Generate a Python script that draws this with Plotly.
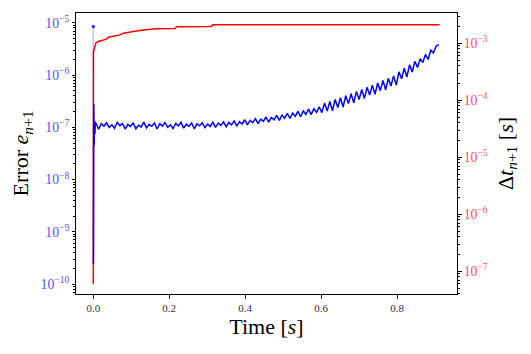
import plotly.graph_objects as go

# ---- data ----
red_t = [0.0, 0.0003, 0.007, 0.013, 0.035, 0.040, 0.070, 0.079, 0.105, 0.132,
         0.167, 0.215, 0.220, 0.310, 0.315, 0.912]
red_dt = [5.9e-8, 7.1e-4, 1.02e-3, 1.07e-3, 1.18e-3, 1.27e-3, 1.40e-3, 1.50e-3,
          1.60e-3, 1.71e-3, 1.80e-3, 1.81e-3, 1.95e-3, 1.97e-3, 2.10e-3, 2.10e-3]

start_t = [0.0, 0.0003]
start_err = [8.5e-6, 2.4e-10]

blue_t = [0.0003, 0.0012, 0.0022, 0.0032, 0.0042, 0.0055,
          0.007, 0.014, 0.021, 0.028, 0.035, 0.042, 0.049, 0.056, 0.063, 0.070,
          0.077, 0.084, 0.091, 0.098, 0.105, 0.112, 0.119, 0.126, 0.133, 0.140,
          0.147, 0.154, 0.161, 0.168, 0.175, 0.182, 0.189, 0.196, 0.203, 0.210,
          0.217, 0.224, 0.231, 0.238, 0.245, 0.252, 0.259, 0.266, 0.273, 0.280,
          0.287, 0.294, 0.301, 0.308, 0.315, 0.322, 0.329, 0.336, 0.343, 0.350,
          0.357, 0.364, 0.371, 0.378, 0.385, 0.392, 0.399, 0.406, 0.413, 0.420,
          0.427, 0.434, 0.441, 0.448, 0.455, 0.462, 0.469, 0.476, 0.483, 0.490,
          0.497, 0.504, 0.511, 0.518, 0.525, 0.532, 0.539, 0.546, 0.553, 0.560,
          0.567, 0.574, 0.581, 0.588, 0.595, 0.602, 0.609, 0.616, 0.623, 0.630,
          0.637, 0.644, 0.651, 0.658, 0.665, 0.672, 0.679, 0.686, 0.693, 0.700,
          0.707, 0.714, 0.721, 0.728, 0.735, 0.742, 0.749, 0.756, 0.763, 0.770,
          0.777, 0.784, 0.791, 0.798, 0.805, 0.812, 0.819, 0.826, 0.833, 0.840,
          0.847, 0.854, 0.861, 0.868, 0.875, 0.882, 0.889, 0.896, 0.903, 0.910]
blue_err = [2.4e-10, 2.8e-7, 4.5e-8, 1.35e-7, 7.5e-8, 1.25e-7,
            1.20e-7, 0.92e-7, 1.18e-7, 1.06e-7, 1.22e-7, 0.99e-7, 1.12e-7, 0.96e-7, 1.25e-7, 1.08e-7,
            1.19e-7, 0.93e-7, 1.14e-7, 1.04e-7, 1.23e-7, 0.94e-7, 1.10e-7, 1.01e-7, 1.26e-7, 0.98e-7,
            1.13e-7, 1.05e-7, 1.21e-7, 0.93e-7, 1.18e-7, 1.06e-7, 1.24e-7, 1.00e-7, 1.12e-7, 0.95e-7,
            1.19e-7, 1.07e-7, 1.25e-7, 0.97e-7, 1.15e-7, 1.04e-7, 1.22e-7, 0.94e-7, 1.17e-7, 1.08e-7,
            1.23e-7, 0.99e-7, 1.16e-7, 1.04e-7, 1.25e-7, 1.00e-7, 1.21e-7, 1.09e-7, 1.27e-7, 1.03e-7,
            1.24e-7, 1.12e-7, 1.33e-7, 1.06e-7, 1.29e-7, 1.16e-7, 1.40e-7, 1.12e-7, 1.36e-7, 1.23e-7,
            1.47e-7, 1.18e-7, 1.44e-7, 1.31e-7, 1.58e-7, 1.26e-7, 1.55e-7, 1.39e-7, 1.70e-7, 1.36e-7,
            1.72e-7, 1.50e-7, 1.85e-7, 1.48e-7, 1.88e-7, 1.62e-7, 2.03e-7, 1.60e-7, 2.06e-7, 1.78e-7,
            2.23e-7, 1.76e-7, 2.28e-7, 1.95e-7, 2.47e-7, 1.92e-7, 2.92e-7, 2.05e-7, 3.15e-7, 2.08e-7,
            3.42e-7, 2.40e-7, 3.70e-7, 2.46e-7, 4.05e-7, 2.85e-7, 4.40e-7, 2.95e-7, 4.85e-7, 3.40e-7,
            5.30e-7, 3.55e-7, 5.85e-7, 4.15e-7, 6.45e-7, 4.30e-7, 7.10e-7, 5.05e-7, 7.90e-7, 5.25e-7,
            8.70e-7, 6.20e-7, 9.70e-7, 6.45e-7, 1.16e-6, 8.5e-7, 1.36e-6, 9.2e-7, 1.58e-6, 1.15e-6,
            1.84e-6, 1.40e-6, 2.06e-6, 1.74e-6, 2.50e-6, 2.00e-6, 3.00e-6, 2.66e-6, 3.60e-6, 3.85e-6]

x_ticks = [0.0, 0.2, 0.4, 0.6, 0.8]

FONT = "Liberation Serif"

fig = go.Figure()
fig.add_trace(go.Scatter(x=red_t, y=red_dt, mode="lines",
                         line=dict(color="#ff0000", width=1.5), yaxis="y",
                         showlegend=False))
fig.add_trace(go.Scatter(x=start_t, y=start_err, mode="lines",
                         line=dict(color="rgba(0,0,255,0.25)", width=1.5), yaxis="y2",
                         showlegend=False))
fig.add_trace(go.Scatter(x=start_t[:1], y=start_err[:1], mode="markers",
                         marker=dict(color="#0000ff", size=3), yaxis="y2",
                         showlegend=False))
fig.add_trace(go.Scatter(x=blue_t, y=blue_err, mode="lines",
                         line=dict(color="#0000ff", width=1.5), yaxis="y2",
                         showlegend=False))

# the page body adds an 8px margin, so the figure is sized/offset to compensate
fig.update_layout(
    width=515, height=338,
    margin=dict(l=68, r=66, t=5, b=52),
    paper_bgcolor="white", plot_bgcolor="white",
    font=dict(family=FONT, color="black"),
    xaxis=dict(range=[-0.0456, 0.958], tickvals=x_ticks, tickformat=".1f",
               automargin=False,
               ticks="outside", ticklen=3.5, tickcolor="black",
               showline=True, linecolor="black", linewidth=1, mirror=True,
               showgrid=False, zeroline=False,
               tickfont=dict(size=11, color="#333333"),
               title=dict(text="Time [<i>s</i>]", font=dict(size=22), standoff=4)),
    yaxis=dict(type="log", range=[-7.40, -2.47], side="right", dtick=1,
               automargin=False,
               exponentformat="power", ticks="outside", ticklen=3.5, tickcolor="black",
               showline=True, linecolor="black", linewidth=1,
               showgrid=False, zeroline=False,
               minor=dict(ticks="outside", ticklen=2, tickcolor="black", showgrid=False),
               tickfont=dict(size=11, color="#ff5050"),
               title=dict(text="Δ<i>t</i><sub><i>n</i>+1</sub> [<i>s</i>]",
                          font=dict(size=22), standoff=10)),
    yaxis2=dict(type="log", range=[-10.19, -4.81], side="left", overlaying="y",
                automargin=False,
                dtick=1, exponentformat="power", ticks="outside", ticklen=3.5,
                tickcolor="black", showline=True, linecolor="black", linewidth=1,
                showgrid=False, zeroline=False,
                minor=dict(ticks="outside", ticklen=2, tickcolor="black", showgrid=False),
                tickfont=dict(size=11, color="#5050ff"),
                title=dict(text="Error <i>e</i><sub><i>n</i>+1</sub>",
                           font=dict(size=22), standoff=6)),
)

fig.write_html("out.html")
